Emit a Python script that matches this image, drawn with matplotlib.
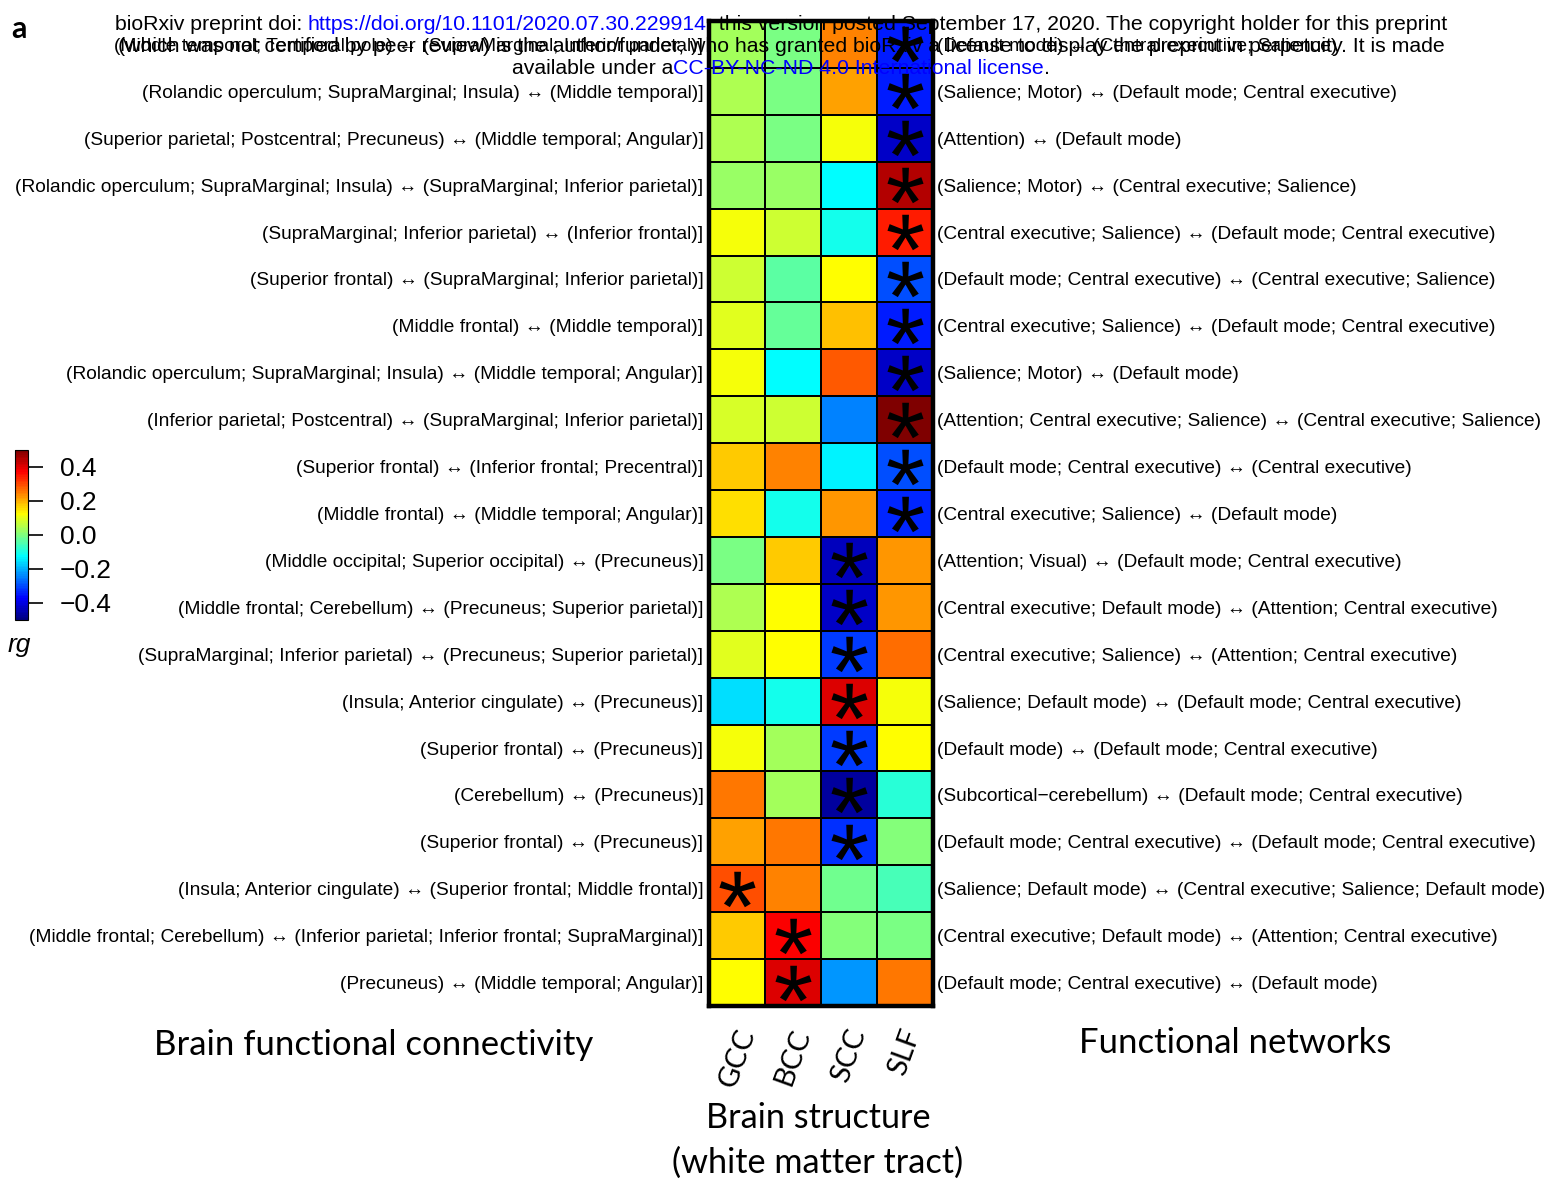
import numpy as np
import matplotlib
matplotlib.use('Agg')
import matplotlib.pyplot as plt
from matplotlib.textpath import TextPath
from matplotlib.font_manager import FontProperties
from matplotlib.path import Path
from matplotlib.colors import LinearSegmentedColormap

# ---------------- data ----------------
tracts = ['GCC', 'BCC', 'SCC', 'SLF']

left_labels = [
    '(Middle temporal; Temporal pole) ↔ (SupraMarginal; Inferior parietal)]',
    '(Rolandic operculum; SupraMarginal; Insula) ↔ (Middle temporal)]',
    '(Superior parietal; Postcentral; Precuneus) ↔ (Middle temporal; Angular)]',
    '(Rolandic operculum; SupraMarginal; Insula) ↔ (SupraMarginal; Inferior parietal)]',
    '(SupraMarginal; Inferior parietal) ↔ (Inferior frontal)]',
    '(Superior frontal) ↔ (SupraMarginal; Inferior parietal)]',
    '(Middle frontal) ↔ (Middle temporal)]',
    '(Rolandic operculum; SupraMarginal; Insula) ↔ (Middle temporal; Angular)]',
    '(Inferior parietal; Postcentral) ↔ (SupraMarginal; Inferior parietal)]',
    '(Superior frontal) ↔ (Inferior frontal; Precentral)]',
    '(Middle frontal) ↔ (Middle temporal; Angular)]',
    '(Middle occipital; Superior occipital) ↔ (Precuneus)]',
    '(Middle frontal; Cerebellum) ↔ (Precuneus; Superior parietal)]',
    '(SupraMarginal; Inferior parietal) ↔ (Precuneus; Superior parietal)]',
    '(Insula; Anterior cingulate) ↔ (Precuneus)]',
    '(Superior frontal) ↔ (Precuneus)]',
    '(Cerebellum) ↔ (Precuneus)]',
    '(Superior frontal) ↔ (Precuneus)]',
    '(Insula; Anterior cingulate) ↔ (Superior frontal; Middle frontal)]',
    '(Middle frontal; Cerebellum) ↔ (Inferior parietal; Inferior frontal; SupraMarginal)]',
    '(Precuneus) ↔ (Middle temporal; Angular)]',
]

right_labels = [
    '(Default mode) ↔ (Central executive; Salience)',
    '(Salience; Motor) ↔ (Default mode; Central executive)',
    '(Attention) ↔ (Default mode)',
    '(Salience; Motor) ↔ (Central executive; Salience)',
    '(Central executive; Salience) ↔ (Default mode; Central executive)',
    '(Default mode; Central executive) ↔ (Central executive; Salience)',
    '(Central executive; Salience) ↔ (Default mode; Central executive)',
    '(Salience; Motor) ↔ (Default mode)',
    '(Attention; Central executive; Salience) ↔ (Central executive; Salience)',
    '(Default mode; Central executive) ↔ (Central executive)',
    '(Central executive; Salience) ↔ (Default mode)',
    '(Attention; Visual) ↔ (Default mode; Central executive)',
    '(Central executive; Default mode) ↔ (Attention; Central executive)',
    '(Central executive; Salience) ↔ (Attention; Central executive)',
    '(Salience; Default mode) ↔ (Default mode; Central executive)',
    '(Default mode) ↔ (Default mode; Central executive)',
    '(Subcortical\u2212cerebellum) ↔ (Default mode; Central executive)',
    '(Default mode; Central executive) ↔ (Default mode; Central executive)',
    '(Salience; Default mode) ↔ (Central executive; Salience; Default mode)',
    '(Central executive; Default mode) ↔ (Attention; Central executive)',
    '(Default mode; Central executive) ↔ (Default mode)',
]

rg_gcc = [0.035, 0.04, 0.04, 0.025, 0.11, 0.075, 0.09, 0.11, 0.085, 0.175, 0.15,
          -0.01, 0.04, 0.095, -0.16, 0.11, 0.25, 0.21, 0.29, 0.175, 0.125]
rg_bcc = [-0.01, -0.01, -0.01, 0.02, 0.075, -0.04, -0.03, -0.125, 0.075, 0.24, -0.105,
          0.175, 0.125, 0.125, -0.105, 0.03, 0.03, 0.25, 0.24, 0.375, 0.41]
rg_scc = [0.24, 0.21, 0.11, -0.125, -0.105, 0.125, 0.18, 0.28, -0.25, -0.14, 0.22,
          -0.44, -0.43, -0.32, 0.41, -0.32, -0.47, -0.33, -0.015, 0.0, -0.23]
rg_slf = [-0.345, -0.345, -0.43, 0.44, 0.345, -0.30, -0.345, -0.43, 0.49, -0.30, -0.335,
          0.22, 0.22, 0.26, 0.11, 0.125, -0.09, 0.0, -0.06, -0.01, 0.25]

sig_gcc = [0]*18 + [1, 0, 0]
sig_bcc = [0]*19 + [1, 1]
sig_scc = [0]*11 + [1]*7 + [0, 0, 0]
sig_slf = [1]*11 + [0]*10

cbar_ticks = [-0.4, -0.2, 0.0, 0.2, 0.4]
cbar_ticklabels = ['\u22120.4', '\u22120.2', '0.0', '0.2', '0.4']

jet_colors = ['#00007F', '#0000FF', '#007FFF', '#00FFFF', '#7FFF7F',
              '#FFFF00', '#FF7F00', '#FF0000', '#7F0000']

# ---------------- figure ----------------
W, H = 1563, 1185
fig = plt.figure(figsize=(W / 100, H / 100), dpi=100)
LAB = ['Liberation Sans', 'DejaVu Sans']
CAL = ['Lato', 'DejaVu Sans']
LSIZE = 13.8
cmap = LinearSegmentedColormap.from_list('jet9', jet_colors, N=100)

ax = fig.add_axes([709 / W, 1 - 1006 / H, 224 / W, 985 / H])
data = np.column_stack([rg_gcc, rg_bcc, rg_scc, rg_slf])
sig = np.column_stack([sig_gcc, sig_bcc, sig_scc, sig_slf])
n, m = data.shape
mesh = ax.pcolormesh(np.arange(m + 1), np.arange(n + 1), data, cmap=cmap,
                     vmin=-0.5, vmax=0.5, edgecolors='k', linewidth=1.3)
ax.set_xlim(0, m)
ax.set_ylim(n, 0)
for s in ax.spines.values():
    s.set_linewidth(3.2)

# asterisk marker built from the font glyph
fp = FontProperties(family='Liberation Sans')
tp = TextPath((0, 0), '*', prop=fp, size=1)
ext = tp.get_extents()
cx, cy = (ext.x0 + ext.x1) / 2, (ext.y0 + ext.y1) / 2
verts = tp.vertices.copy()
codes = tp.codes.copy() if tp.codes is not None else None
if codes is not None:
    verts[codes == Path.CLOSEPOLY] = (cx, cy)
verts = verts - (cx, cy)
ast = Path(verts, codes)
rr, cc = np.nonzero(sig)
ax.plot(cc + 0.5, rr + 0.5, linestyle='none', marker=ast, markersize=26,
        color='k', markeredgewidth=0, zorder=5)

ax.set_yticks(np.arange(n) + 0.5)
ax.set_yticklabels(left_labels, fontsize=LSIZE, family=LAB)
ax.tick_params(axis='y', length=0, pad=4)
ax.set_xticks(np.arange(m) + 0.5)
ax.set_xticklabels(tracts, rotation=70, fontsize=21, family=CAL, ha='center', va='top')
ax.tick_params(axis='x', length=0, pad=14)

ax2 = ax.twinx()
ax2.set_ylim(n, 0)
ax2.set_yticks(np.arange(n) + 0.5)
ax2.set_yticklabels(right_labels, fontsize=LSIZE, family=LAB)
ax2.tick_params(axis='y', length=0, pad=3)
for s in ax2.spines.values():
    s.set_visible(False)

# colorbar
cax = fig.add_axes([15 / W, 1 - 620 / H, 13 / W, 170 / H])
cb = fig.colorbar(mesh, cax=cax, ticks=cbar_ticks)
cb.set_ticklabels(cbar_ticklabels)
cb.outline.set_linewidth(0.8)
cax.tick_params(length=11, width=1.2, pad=12, labelsize=19)
for t in cax.get_yticklabels():
    t.set_family(LAB)
fig.text(8 / W, 1 - 645 / H, 'rg', fontsize=19, style='italic', family=LAB, va='center')

# panel letter
fig.text(11 / W, 1 - 29 / H, 'a', fontsize=22, fontweight='bold', family=CAL, va='center')

# axis titles
fig.text(374 / W, 1 - 1045 / H, 'Brain functional connectivity', fontsize=25, family=CAL,
         ha='center', va='center')
fig.text(1235 / W, 1 - 1043 / H, 'Functional networks', fontsize=25, family=CAL,
         ha='center', va='center')
fig.text(818 / W, 1 - 1118 / H, 'Brain structure', fontsize=24.7, family=CAL,
         ha='center', va='center')
fig.text(818 / W, 1 - 1163 / H, '(white matter tract)', fontsize=24.7, family=CAL,
         ha='center', va='center')

# bioRxiv watermark header
renderer = fig.canvas.get_renderer()
BLUE = '#0000ff'


def width_of(s, size):
    t = fig.text(0, 0, s + 'x', fontsize=size, family=LAB)
    w1 = t.get_window_extent(renderer).width
    t.set_text('x')
    w2 = t.get_window_extent(renderer).width
    t.remove()
    return w1 - w2


def seg_line(ypx, segs, size, xc=781):
    full = ''.join(s for s, _ in segs)
    total = width_of(full, size)
    x0 = xc - total / 2
    prefix = ''
    for s, c in segs:
        x = x0 + (width_of(prefix, size) if prefix else 0)
        fig.text(x / W, 1 - ypx / H, s, fontsize=size, family=LAB, color=c,
                 va='center', ha='left', zorder=20)
        prefix += s


WM = 15.3
seg_line(24, [('bioRxiv preprint doi: ', 'k'),
              ('https://doi.org/10.1101/2020.07.30.229914', BLUE),
              ('. this version posted September 17, 2020. The copyright holder for this preprint', 'k')], WM)
seg_line(46, [('(which was not certified by peer review) is the author/funder, who has granted bioRxiv a license to display the preprint in perpetuity. It is made', 'k')], WM)
seg_line(68, [('available under a', 'k'),
              ('CC-BY-NC-ND 4.0 International license', BLUE),
              ('.', 'k')], WM)

fig.savefig('out.png', dpi=100)
